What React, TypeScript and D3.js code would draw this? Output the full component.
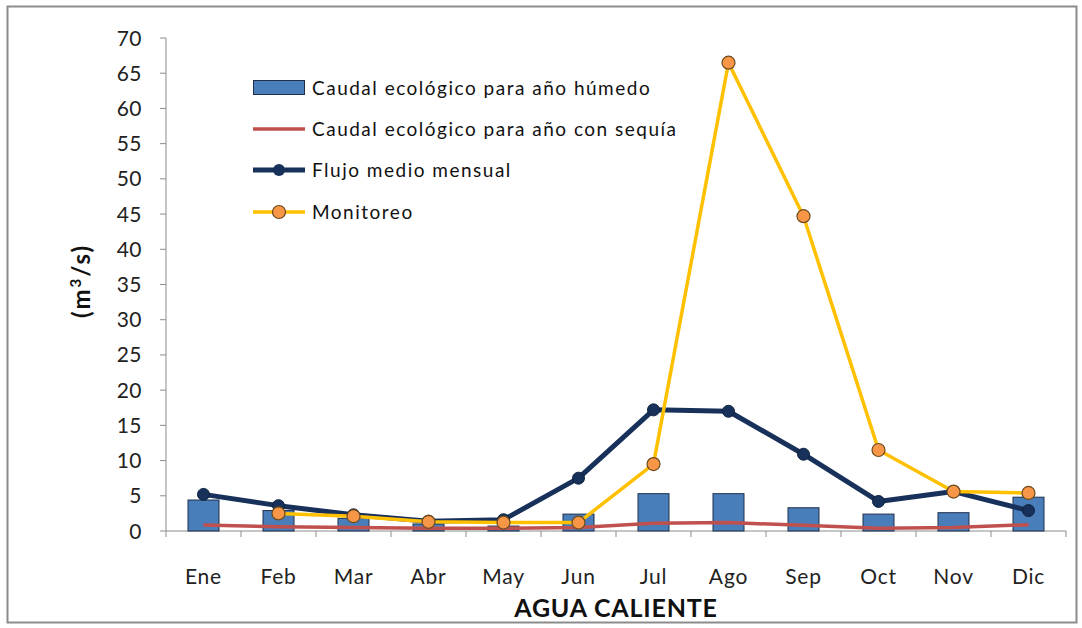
import React from "react";
import * as d3 from "d3";

const months = ["Ene", "Feb", "Mar", "Abr", "May", "Jun", "Jul", "Ago", "Sep", "Oct", "Nov", "Dic"];
const humedo = [4.4, 2.9, 1.8, 1.0, 0.7, 2.4, 5.3, 5.3, 3.3, 2.4, 2.6, 4.8];
const sequia = [0.85, 0.6, 0.5, 0.4, 0.4, 0.5, 1.1, 1.2, 0.8, 0.4, 0.5, 0.9];
const flujo = [5.2, 3.6, 2.3, 1.4, 1.6, 7.5, 17.2, 17.0, 10.9, 4.2, 5.6, 2.9];
const monitoreo: (number | null)[] = [null, 2.5, 2.1, 1.3, 1.2, 1.2, 9.5, 66.5, 44.7, 11.5, 5.6, 5.4];
const yTicks = [0, 5, 10, 15, 20, 25, 30, 35, 40, 45, 50, 55, 60, 65, 70];
const legendLabels = [
  "Caudal ecológico para año húmedo",
  "Caudal ecológico para año con sequía",
  "Flujo medio mensual",
  "Monitoreo",
];

const W = 1082;
const H = 628;
const left = 166;
const right = 1066;
const top = 38;
const bottom = 531;
const font = "Lato, 'Open Sans', sans-serif";

export default function App() {
  const x = d3.scaleBand<string>().domain(months).range([left, right]);
  const y = d3.scaleLinear().domain([0, 70]).range([bottom, top]);
  const cx = (m: string) => (x(m) as number) + x.bandwidth() / 2;
  const barW = 31;

  const line = d3
    .line<[string, number | null]>()
    .defined((d) => d[1] !== null)
    .x((d) => cx(d[0]))
    .y((d) => y(d[1] as number));

  const pairs = (arr: (number | null)[]) => months.map((m, i) => [m, arr[i]] as [string, number | null]);

  const legY = [88, 129, 170, 212];

  return (
    <svg width={W} height={H} style={{ position: "absolute", left: 0, top: 0, background: "#fff" }} fontFamily={font}>
      <rect x={7.5} y={6.5} width={1069} height={616} fill="#fff" stroke="#8c8c8c" strokeWidth={2} />
      {/* y axis */}
      <line x1={left} x2={left} y1={top} y2={bottom} stroke="#8c8c8c" strokeWidth={1} />
      {yTicks.map((t) => (
        <g key={t}>
          <line x1={left - 6} x2={left} y1={y(t)} y2={y(t)} stroke="#8c8c8c" />
          <text x={142} y={y(t)} dy="0.36em" textAnchor="end" fontSize={21} letterSpacing={0.5} fill="#222">
            {t}
          </text>
        </g>
      ))}
      {/* x axis */}
      <line x1={left} x2={right} y1={bottom} y2={bottom} stroke="#8c8c8c" />
      {months.map((m) => (
        <line key={"t" + m} x1={x(m)} x2={x(m)} y1={bottom} y2={bottom + 6} stroke="#8c8c8c" />
      ))}
      <line x1={right} x2={right} y1={bottom} y2={bottom + 6} stroke="#8c8c8c" />
      {months.map((m) => (
        <text key={"l" + m} x={cx(m)} y={584} textAnchor="middle" fontSize={21} letterSpacing={0.8} fill="#222">
          {m}
        </text>
      ))}
      <text x={616} y={617} textAnchor="middle" fontSize={25} fontWeight="bold" letterSpacing={0.8} fill="#111">
        AGUA CALIENTE
      </text>
      <text
        transform={`translate(90,${281}) rotate(-90)`}
        textAnchor="middle"
        fontSize={24}
        fontWeight="bold"
        letterSpacing={2}
        fill="#111"
      >
        (m<tspan dy={-9} fontSize={15}>3</tspan>
        <tspan dy={9}>/s)</tspan>
      </text>

      {/* bars */}
      {months.map((m, i) => (
        <rect
          key={"b" + m}
          x={cx(m) - barW / 2}
          y={y(humedo[i])}
          width={barW}
          height={bottom - y(humedo[i])}
          fill="#4a7ebb"
          stroke="#1e2f4a"
          strokeWidth={1}
        />
      ))}
      {/* sequia */}
      <path d={line(pairs(sequia)) || ""} fill="none" stroke="#c0504d" strokeWidth={3.5} />
      {/* flujo */}
      <path d={line(pairs(flujo)) || ""} fill="none" stroke="#17315a" strokeWidth={5} strokeLinejoin="round" />
      {months.map((m, i) => (
        <circle key={"f" + m} cx={cx(m)} cy={y(flujo[i])} r={6} fill="#17315a" stroke="#0f2240" />
      ))}
      {/* monitoreo */}
      <path d={line(pairs(monitoreo)) || ""} fill="none" stroke="#ffc000" strokeWidth={3.5} strokeLinejoin="round" />
      {months.map((m, i) =>
        monitoreo[i] === null ? null : (
          <circle key={"m" + m} cx={cx(m)} cy={y(monitoreo[i] as number)} r={6.5} fill="#f79646" stroke="#6b4a1e" strokeWidth={1.2} />
        )
      )}

      {/* legend */}
      <rect x={253.5} y={80.5} width={51} height={14} fill="#4a7ebb" stroke="#1e2f4a" />
      <line x1={253} x2={305} y1={129} y2={129} stroke="#c0504d" strokeWidth={3.5} />
      <line x1={253} x2={305} y1={170} y2={170} stroke="#17315a" strokeWidth={5} />
      <circle cx={279} cy={170} r={6} fill="#17315a" />
      <line x1={253} x2={305} y1={212} y2={212} stroke="#ffc000" strokeWidth={3.5} />
      <circle cx={279} cy={212} r={6.5} fill="#f79646" stroke="#6b4a1e" strokeWidth={1.2} />
      {legendLabels.map((l, i) => (
        <text key={l} x={312} y={legY[i]} dy="0.36em" fontSize={19} letterSpacing={1.5} fill="#111">
          {l}
        </text>
      ))}
    </svg>
  );
}
